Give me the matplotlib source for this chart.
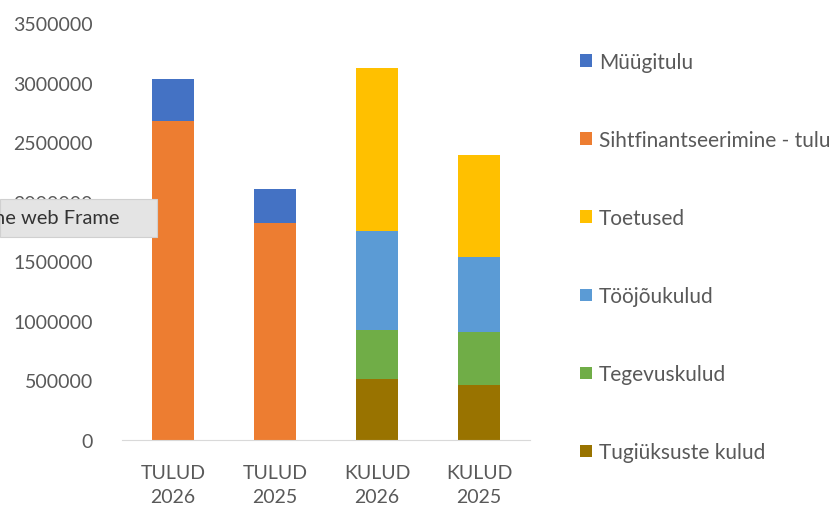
import matplotlib
matplotlib.use("Agg")
from matplotlib import pyplot as plt
from matplotlib.patches import Rectangle
import numpy as np

plt.rcParams['font.family'] = ['Lato', 'DejaVu Sans']

categories = ["TULUD\n2026", "TULUD\n2025", "KULUD\n2026", "KULUD\n2025"]
yticks = [0, 500000, 1000000, 1500000, 2000000, 2500000, 3000000, 3500000]

# stacked from bottom to top
tugiuksuste = [0, 0, 513000, 465000]
tegevuskulud = [0, 0, 414000, 445000]
toojoukulud = [0, 0, 829000, 625000]
toetused = [0, 0, 1374000, 860000]
sihtfin = [2680000, 1820000, 0, 0]
myygitulu = [350000, 290000, 0, 0]

series = [
    ("Tugiüksuste kulud", tugiuksuste, "#997300"),
    ("Tegevuskulud", tegevuskulud, "#70AD47"),
    ("Tööjõukulud", toojoukulud, "#5B9BD5"),
    ("Toetused", toetused, "#FFC000"),
    ("Sihtfinantseerimine - tulu", sihtfin, "#ED7D31"),
    ("Müügitulu", myygitulu, "#4472C4"),
]

fig = plt.figure(figsize=(8.32, 5.06), dpi=100)
W, H = 832, 506
ax = fig.add_axes([122 / W, 1 - 441 / H, 408 / W, (441 - 24.5) / H])

x = np.arange(len(categories))
bottom = np.zeros(len(categories))
handles = []
for name, vals, col in series:
    b = ax.bar(x, vals, 0.41, bottom=bottom, color=col, label=name)
    bottom += np.array(vals)
    handles.append(b)

ax.set_xlim(-0.5, 3.5)
ax.set_ylim(0, 3500000)
ax.set_yticks(yticks)
ax.set_yticklabels([str(t) for t in yticks])
ax.set_xticks(x)
ax.set_xticklabels(categories, linespacing=1.55)
for s in ['top', 'right', 'left']:
    ax.spines[s].set_visible(False)
ax.spines['bottom'].set_color('#d9d9d9')
ax.tick_params(axis='both', length=0, labelsize=14, colors='#595959')
ax.tick_params(axis='y', pad=21)
ax.tick_params(axis='x', pad=17)

leg = fig.legend(handles[::-1], [s[0] for s in series][::-1],
                 loc='upper left', bbox_to_anchor=(572 / W, 1 - 44.5 / H),
                 frameon=False, fontsize=15, labelcolor='#595959',
                 handlelength=0.55, handleheight=0.55, handletextpad=0.35,
                 labelspacing=2.79, borderaxespad=0)

# tooltip overlay seen in the screenshot
fig.patches.append(Rectangle((0, 1 - 238 / H), 157 / W, 38 / H,
                             transform=fig.transFigure, facecolor='#e4e4e4',
                             edgecolor='#d0d0d0', lw=0.8, zorder=10))
fig.text(-6 / W, 1 - 219 / H, "he web Frame", fontsize=14.5, color='#333333',
         va='center', ha='left', zorder=11)

fig.savefig("out.png", dpi=100)
